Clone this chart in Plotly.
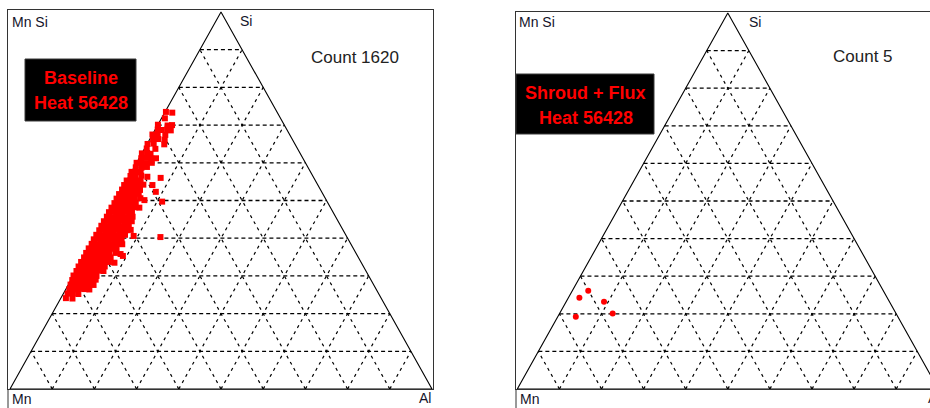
import plotly.graph_objects as go

W, H = 930, 408

# Baseline heat 56428: inclusion compositions as fractions (Mn is the balance)
baseline_si = [
    0.735, 0.733,
    0.718,
    0.701, 0.699, 0.700,
    0.688, 0.687, 0.689, 0.686,
    0.675, 0.676, 0.674,
    0.662, 0.663, 0.661,
    0.650, 0.651, 0.649,
    0.638, 0.637,
    0.625, 0.626, 0.624,
    0.612, 0.613, 0.611, 0.612,
    0.600, 0.601, 0.599, 0.600,
    0.588, 0.587, 0.589,
    0.576, 0.577, 0.575,
    0.565, 0.564, 0.566, 0.563,
    0.553, 0.554, 0.552, 0.553,
    0.541, 0.542, 0.540, 0.541, 0.542,
    0.529, 0.528, 0.530, 0.529, 0.528,
    0.517, 0.518, 0.516, 0.517, 0.518,
    0.505, 0.504, 0.506, 0.505, 0.504, 0.506,
    0.493, 0.494, 0.492, 0.493, 0.494, 0.492,
    0.481, 0.480, 0.482, 0.481, 0.480, 0.482, 0.481,
    0.469, 0.470, 0.468, 0.469, 0.470, 0.468,
    0.457, 0.456, 0.458, 0.457, 0.456, 0.458, 0.457,
    0.445, 0.446, 0.444, 0.445, 0.446, 0.444, 0.445,
    0.433, 0.432, 0.434, 0.433, 0.432, 0.434, 0.433,
    0.421, 0.422, 0.420, 0.421, 0.422, 0.420, 0.421, 0.422,
    0.409, 0.408, 0.410, 0.409, 0.408, 0.410, 0.409, 0.406,
    0.397, 0.398, 0.396, 0.397, 0.398, 0.396, 0.397,
    0.385, 0.384, 0.386, 0.385, 0.384, 0.386, 0.385, 0.384,
    0.373, 0.374, 0.372, 0.373, 0.374, 0.372, 0.373,
    0.361, 0.360, 0.362, 0.361, 0.360, 0.362, 0.361, 0.358,
    0.349, 0.350, 0.348, 0.349, 0.350, 0.348, 0.349,
    0.337, 0.336, 0.338, 0.337, 0.336, 0.338, 0.337, 0.335,
    0.325, 0.326, 0.324, 0.325, 0.326, 0.324, 0.325,
    0.313, 0.312, 0.314, 0.313, 0.312, 0.314, 0.313,
    0.301, 0.302, 0.300, 0.301, 0.302, 0.300,
    0.289, 0.288, 0.290, 0.289, 0.288, 0.290,
    0.277, 0.278, 0.276, 0.277, 0.278, 0.276,
    0.265, 0.264, 0.266, 0.265, 0.264,
    0.253, 0.254, 0.252,
    0.241, 0.240,
    0.560, 0.541, 0.523, 0.497, 0.501, 0.403, 0.353,
]
baseline_al = [
    0.002, 0.018,
    0.008,
    0.000, 0.024, 0.034,
    0.006, 0.016, 0.028, 0.038,
    0.000, 0.012, 0.031,
    0.008, 0.020, 0.036,
    0.001, 0.015, 0.041,
    0.005, 0.026,
    0.000, 0.012, 0.021,
    0.005, 0.016, 0.030, 0.040,
    0.000, 0.010, 0.023, 0.036,
    0.004, 0.018, 0.030,
    0.000, 0.010, 0.022,
    0.003, 0.015, 0.028, 0.044,
    0.000, 0.011, 0.022, 0.033,
    0.000, 0.011, 0.023, 0.034, 0.045,
    0.001, 0.012, 0.022, 0.033, 0.044,
    0.000, 0.010, 0.021, 0.033, 0.046,
    0.000, 0.011, 0.022, 0.034, 0.044, 0.056,
    0.001, 0.012, 0.023, 0.033, 0.043, 0.052,
    0.000, 0.011, 0.022, 0.034, 0.045, 0.055, 0.066,
    0.000, 0.010, 0.021, 0.032, 0.044, 0.055,
    0.001, 0.012, 0.023, 0.034, 0.045, 0.054, 0.062,
    0.000, 0.011, 0.022, 0.033, 0.044, 0.056, 0.066,
    0.000, 0.010, 0.021, 0.033, 0.045, 0.055, 0.065,
    0.001, 0.012, 0.023, 0.034, 0.044, 0.055, 0.066, 0.075,
    0.000, 0.011, 0.022, 0.033, 0.045, 0.056, 0.068, 0.090,
    0.000, 0.010, 0.022, 0.033, 0.044, 0.055, 0.066,
    0.001, 0.012, 0.023, 0.034, 0.045, 0.055, 0.065, 0.074,
    0.000, 0.011, 0.022, 0.033, 0.044, 0.056, 0.066,
    0.000, 0.010, 0.021, 0.033, 0.044, 0.055, 0.070, 0.083,
    0.001, 0.012, 0.023, 0.034, 0.045, 0.055, 0.064,
    0.000, 0.011, 0.022, 0.033, 0.044, 0.055, 0.066, 0.080,
    0.000, 0.010, 0.021, 0.032, 0.044, 0.054, 0.062,
    0.001, 0.012, 0.023, 0.034, 0.045, 0.055, 0.065,
    0.000, 0.011, 0.022, 0.033, 0.044, 0.055,
    0.003, 0.014, 0.025, 0.036, 0.047, 0.058,
    0.005, 0.016, 0.027, 0.038, 0.050, 0.060,
    0.008, 0.020, 0.032, 0.045, 0.056,
    0.010, 0.022, 0.036,
    0.012, 0.028,
    0.077, 0.067, 0.084, 0.112, 0.068, 0.155, 0.091,
]

# Shroud + flux heat 56428
shroud_si = [0.261, 0.243, 0.232, 0.201, 0.192]
shroud_al = [0.038, 0.026, 0.090, 0.126, 0.043]

grid_levels = [0.1, 0.2, 0.3, 0.4, 0.5, 0.6, 0.7, 0.8, 0.9]
corner_si = [0.0, 1.0, 0.0, 0.0]   # Mn -> Si -> Al -> Mn
corner_al = [0.0, 0.0, 1.0, 0.0]

panels = [
    dict(title=["Baseline", "Heat 56428"], count="Count 1620",
         si=baseline_si, al=baseline_al),
    dict(title=["Shroud + Flux", "Heat 56428"], count="Count 5",
         si=shroud_si, al=shroud_al),
]

if len(baseline_si) != len(baseline_al):
    raise ValueError("baseline arrays differ in length")


def to_xy(si, al):
    """Ternary (Si, Al, Mn=rest) -> plane: Al along the base, Si toward the apex."""
    return [a + s / 2 for s, a in zip(si, al)], list(si)


def grid_paths(levels):
    hx, hy, sx, sy = [], [], [], []
    for v in levels:
        x, y = to_xy([v, v], [0, 1 - v])            # constant Si
        hx += x + [None]; hy += y + [None]
        x, y = to_xy([0, 1 - v], [v, v])            # constant Al
        sx += x + [None]; sy += y + [None]
        x, y = to_xy([0, 1 - v], [1 - v, 0])        # constant Mn
        sx += x + [None]; sy += y + [None]
    return hx, hy, sx, sy


def px(x):
    return x / W


def py(y):
    return 1 - y / H


fig = go.Figure()
hx, hy, sx, sy = grid_paths(grid_levels)
ox, oy = to_xy(corner_si, corner_al)
marker_styles = [dict(symbol="square", size=6), dict(symbol="circle", size=6)]

for i, p in enumerate(panels):
    xa = "x" if i == 0 else "x2"
    ya = "y" if i == 0 else "y2"
    fig.add_trace(go.Scatter(x=hx, y=hy, xaxis=xa, yaxis=ya, mode="lines",
                             line=dict(color="black", width=1.3, dash="4px,3px"),
                             hoverinfo="skip"))
    fig.add_trace(go.Scatter(x=sx, y=sy, xaxis=xa, yaxis=ya, mode="lines",
                             line=dict(color="black", width=1.2, dash="3px,4px"),
                             hoverinfo="skip"))
    fig.add_trace(go.Scatter(x=ox, y=oy, xaxis=xa, yaxis=ya, mode="lines",
                             line=dict(color="black", width=1.1), hoverinfo="skip"))
    mx, my = to_xy(p["si"], p["al"])
    fig.add_trace(go.Scatter(x=mx, y=my, xaxis=xa, yaxis=ya, mode="markers",
                             marker=dict(color="#ff0000", line=dict(width=0),
                                         **marker_styles[i])))

axis_common = dict(showgrid=False, zeroline=False, showticklabels=False,
                   ticks="", showline=True, linecolor="#333333", linewidth=1,
                   fixedrange=True)

fig.update_layout(
    width=W, height=H,
    margin=dict(l=0, r=0, t=0, b=0),
    paper_bgcolor="white", plot_bgcolor="white",
    showlegend=False,
    xaxis=dict(domain=[px(8), px(433)], range=[-2 / 422, 423 / 422],
               mirror=True, **axis_common),
    yaxis=dict(domain=[py(389), py(10)], range=[0, 379 / 377],
               mirror=True, **axis_common),
    xaxis2=dict(domain=[px(516), 1.0], range=[-1.3 / 421, 412.7 / 421],
                mirror=True, anchor="y2", **axis_common),
    yaxis2=dict(domain=[py(389), py(12)], range=[0, 377 / 376],
                mirror=False, anchor="x2", **axis_common),
)

# frame edges that run on below the base line
for xl in (8, 516):
    fig.add_shape(type="line", xref="paper", yref="paper",
                  x0=px(xl), x1=px(xl), y0=0, y1=py(389),
                  line=dict(color="#333333", width=1))

sans = "Liberation Sans, Arial, sans-serif"
label_font = dict(family=sans, size=14, color="#14142a")

corner_labels = [
    ("Mn Si", 10, 22, "left"), ("Si", 238, 21, "left"),
    ("Mn", 10, 399, "left"), ("Al", 433, 398, "right"),
    ("Mn Si", 517, 22, "left"), ("Si", 747, 22, "left"),
    ("Mn", 518, 399, "left"), ("Al", 926, 398, "left"),
]
for text, x, y, anchor in corner_labels:
    fig.add_annotation(text=text, x=px(x), y=py(y), xref="paper", yref="paper",
                       xanchor=anchor, yanchor="middle", showarrow=False,
                       font=label_font)

count_pos = [(354.5, 58), (862.5, 57)]
title_boxes = [(25, 59, 136, 121), (516, 74, 654, 134)]
for p, (cx, cy), (x0, y0, x1, y1) in zip(panels, count_pos, title_boxes):
    fig.add_annotation(text=p["count"], x=px(cx), y=py(cy), xref="paper", yref="paper",
                       xanchor="center", yanchor="middle", showarrow=False,
                       font=dict(family=sans, size=17, color="#222222"))
    fig.add_shape(type="rect", xref="paper", yref="paper",
                  x0=px(x0), x1=px(x1), y0=py(y1), y1=py(y0),
                  fillcolor="black", line=dict(color="#3a3a3a", width=1))
    mid = (x0 + x1) / 2 + 0.5
    for k, line in enumerate(p["title"]):
        fig.add_annotation(text="<b>%s</b>" % line, x=px(mid), y=py(y0 + 19 + 25 * k),
                           xref="paper", yref="paper", xanchor="center",
                           yanchor="middle", showarrow=False,
                           font=dict(family=sans, size=18, color="#ff0000"))

fig.write_html("out.html", config={"displayModeBar": False})
